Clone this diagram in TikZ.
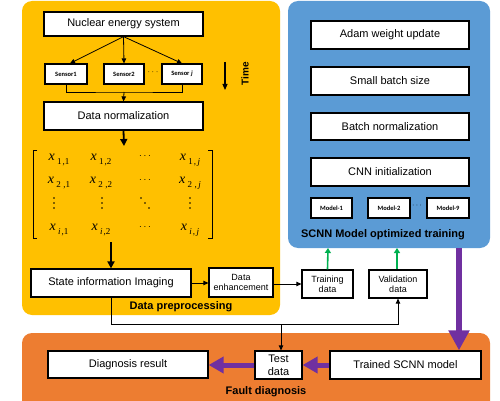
\documentclass[tikz,border=0pt]{standalone}
\usepackage{fontspec}
\setmainfont{Liberation Sans}
\newfontfamily\snsfont{Carlito}
\newfontfamily\tmsfont{Liberation Serif}
\usetikzlibrary{arrows.meta,calc}
\definecolor{ylw}{HTML}{FFC000}
\definecolor{blu}{HTML}{5B9BD5}
\definecolor{org}{HTML}{ED7D31}
\definecolor{prp}{HTML}{7030A0}
\definecolor{grn}{HTML}{00B050}
\newcommand{\mx}[2]{{\tmsfont\fontsize{14}{14}\selectfont\itshape x}\hspace{2.5pt}\raisebox{-3.5pt}{\tmsfont\fontsize{9}{9}\selectfont #1}\hspace{1pt}\raisebox{-3.5pt}{\tmsfont\fontsize{9}{9}\selectfont ,#2}}
\begin{document}
\begin{tikzpicture}[x=1pt,y=-1pt,
  box/.style={draw=black,fill=white,line width=1.2pt,inner sep=0pt,align=center,font=\fontsize{11}{13}\selectfont},
  sbox/.style={box,font=\fontsize{9}{10}\selectfont},
  tbox/.style={box,font=\snsfont\bfseries\fontsize{6.5}{7}\selectfont},
  panel/.style={rounded corners=10pt,draw=none},
  ttl/.style={font=\bfseries\fontsize{11}{13}\selectfont,inner sep=0pt},
  arr/.style={line width=0.8pt,-{Triangle[length=5pt,width=4.5pt]}},
  ln/.style={line width=0.8pt},
  barr/.style={line width=1.8pt,-{Triangle[length=7pt,width=7pt]}},
  garr/.style={draw=grn,line width=1.6pt,-{Triangle[length=5pt,width=6pt]}},
  parr/.style={draw=prp,fill=prp,line width=5pt,-{Triangle[length=15pt,width=16pt]}},
  ent/.style={inner sep=0pt},
  dot/.style={fill=black,draw=none}
]
\useasboundingbox (0,0) rectangle (500,401);
\clip (0,0) rectangle (500,401);
% panels
\fill[panel,ylw] (22,1) rectangle (280,315);
\fill[panel,blu] (288,1) rectangle (490,248);
\fill[panel,org] (22,333) rectangle (490,425);

% data preprocessing
\node[box,minimum width=159pt,minimum height=24pt] (nes) at (123.5,24) {Nuclear energy system};
\node[tbox,minimum width=42pt,minimum height=20pt] (s1) at (66,74) {Sensor1};
\node[tbox,minimum width=40pt,minimum height=20pt] (s2) at (124,74) {Sensor2};
\node[tbox,minimum width=40pt,minimum height=20pt] (sj) at (182,74) {Sensor \textit{j}};
\node[inner sep=0pt,font=\fontsize{9}{9}\selectfont] (sd) at (153,72) {$\cdots$};
\node[box,minimum width=159pt,minimum height=28pt] (dn) at (123.5,116) {Data normalization};
\draw[arr] (nes.south) -- ($(s1.north)+(4,0)$);
\draw[arr] (nes.south) -- (s2.north);
\draw[arr] (nes.south) -- (sj.north);
\coordinate (jn) at (124,92);
\draw[ln] (s1.south) |- (jn) -| (sj.south);
\draw[arr] (jn) -- (dn.north);
% time
\coordinate (t1) at (225,62);
\coordinate (t2) at (225,90);
\draw[line width=1.1pt,-{Triangle[length=6pt,width=5pt]}] (t1) -- (t2);
\node[rotate=90,font=\bfseries\fontsize{10}{10}\selectfont,inner sep=0pt] (time) at (245,74) {Time};

% matrix
\coordinate (mtop) at (124,146);
\coordinate (mbot) at (111,242);
\draw[barr] (dn.south) -- (mtop);
\draw[line width=0.9pt] (37,150) -- (33,150) -- (33,238) -- (37,238);
\draw[line width=0.9pt] (208,150) -- (212,150) -- (212,238) -- (208,238);
\node[ent] (e11) at (59,160) {\mx{1}{1}};
\node[ent] (e12) at (101,160) {\mx{1}{2}};
\node[ent] (e13) at (145,156) {$\cdots$};
\node[ent] (e14) at (190,160) {\mx{1}{\,\textit{j}}};
\node[ent] (e21) at (59,183) {\mx{2\,}{1}};
\node[ent] (e22) at (101,183) {\mx{2\,}{2}};
\node[ent] (e23) at (145,180) {$\cdots$};
\node[ent] (e24) at (190,183) {\mx{2\,}{\,\textit{j}}};
\foreach \xx in {54,102,190} {
  \fill[dot] (\xx,198) circle (0.8pt);
  \fill[dot] (\xx,203) circle (0.8pt);
  \fill[dot] (\xx,208) circle (0.8pt);
}
\fill[dot] (141,198) circle (0.8pt);
\fill[dot] (145,203) circle (0.8pt);
\fill[dot] (149,208) circle (0.8pt);
\node[ent] (e41) at (59,230) {\mx{\textit{i}}{1}};
\node[ent] (e42) at (101,230) {\mx{\textit{i}}{2}};
\node[ent] (e43) at (145,227) {$\cdots$};
\node[ent] (e44) at (190,230) {\mx{\textit{i}}{\,\textit{j}}};

\node[box,minimum width=160pt,minimum height=28pt] (sii) at (111,283) {State information Imaging};
\draw[barr] (mbot) -- (sii.north);
\node[sbox,minimum width=64pt,minimum height=29pt] (de) at (241,282.5) {Data\\enhancement};
\node[sbox,minimum width=51pt,minimum height=28pt] (td) at (327.5,284) {Training\\data};
\node[sbox,minimum width=58pt,minimum height=28pt] (vd) at (398,284) {Validation\\data};
\draw[arr] (sii.east) -- (de.west |- sii.east);
\draw[arr] (de.east |- td.west) -- (td.west);
\node[ttl] (dpt) at (181,307) {Data preprocessing};

% SCNN
\node[box,minimum width=158pt,minimum height=28pt] (adam) at (390,35) {Adam weight update};
\node[box,minimum width=158pt,minimum height=28pt] (sbs) at (390,81) {Small batch size};
\node[box,minimum width=158pt,minimum height=27pt] (bn) at (390,126.5) {Batch normalization};
\node[box,minimum width=158pt,minimum height=28pt] (cnn) at (390,172) {CNN initialization};
\node[tbox,minimum width=41pt,minimum height=20pt] (m1) at (331.5,208) {Model-1};
\node[tbox,minimum width=42pt,minimum height=20pt] (m2) at (389,208) {Model-2};
\node[tbox,minimum width=42pt,minimum height=20pt] (m9) at (448,208) {Model-9};
\node[inner sep=0pt,font=\fontsize{8}{8}\selectfont] (md) at (417,206) {$\cdots$};
\node[ttl] (sct) at (383,235) {SCNN Model optimized training};
\coordinate (btd) at (328,248);
\coordinate (bvd) at (397,248);
\draw[garr] (td.north) -- (btd);
\draw[garr] (vd.north -| bvd) -- (bvd);

% fault diagnosis
\node[box,minimum width=47pt,minimum height=28pt] (test) at (278.5,365) {Test\\data};
\node[box,minimum width=160pt,minimum height=27pt] (dr) at (128,364.5) {Diagnosis result};
\node[box,minimum width=151pt,minimum height=28pt] (tsm) at (405.5,365) {Trained SCNN model};
\node[ttl] (fdt) at (266,392) {Fault diagnosis};
\draw[parr] (tsm.west) -- (test.east |- tsm.west);
\draw[parr] (test.west) -- (dr.east |- test.west);
\coordinate (pa) at (459,248);
\draw[line width=6pt,draw=prp,-{Triangle[length=20pt,width=20pt]}] (pa) -- (tsm.north -| pa);

% data flow lines
\coordinate (lb) at (111,324);
\coordinate (lt) at (281,324);
\draw[ln] (sii.south) -- (lb);
\draw[arr] (lb) -| (vd.south);
\draw[arr] (lt) -- (test.north -| lt);
\end{tikzpicture}
\end{document}
